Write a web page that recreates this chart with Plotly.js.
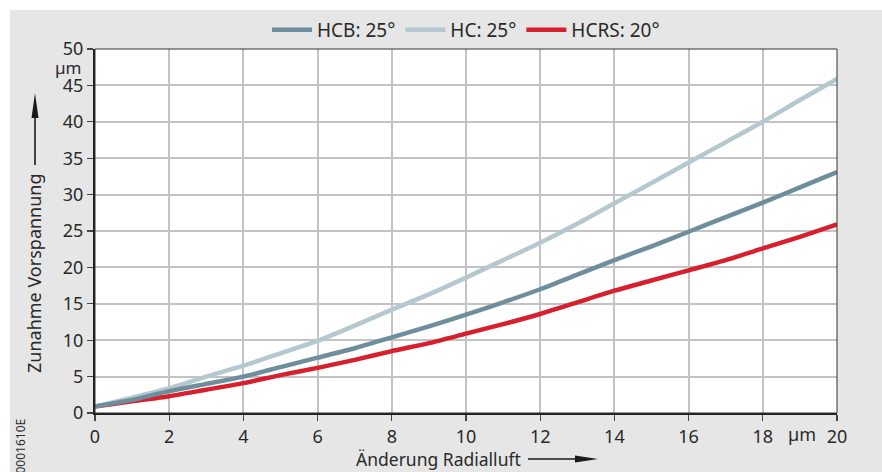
<!DOCTYPE html>
<html>
<head>
<meta charset="utf-8">
<script src="https://cdn.plot.ly/plotly-3.0.1.min.js"></script>
<style>
html,body{margin:0;padding:0;background:#ffffff;}
#chart{position:absolute;left:10px;top:10px;width:872px;height:462px;}
</style>
</head>
<body>
<div id="chart"></div>
<script>
// ---- data ----
const xValues = [0,1,2,3,4,5,6,7,8,9,10,11,12,13,14,15,16,17,18,19,20];
const hcbValues  = [0.9,1.8,3.0,4.0,5.0,6.3,7.6,8.9,10.4,11.9,13.5,15.2,17.0,19.0,21.0,22.9,24.9,26.9,28.9,31.0,33.1];
const hcValues   = [0.9,2.1,3.4,5.0,6.5,8.2,9.9,12.0,14.2,16.3,18.6,21.0,23.4,26.0,28.8,31.6,34.4,37.2,40.0,43.0,45.9];
const hcrsValues = [0.9,1.6,2.3,3.2,4.1,5.2,6.2,7.3,8.5,9.6,10.9,12.2,13.6,15.2,16.8,18.2,19.6,21.0,22.6,24.2,25.9];
const seriesNames = ["HCB: 25°","HC: 25°","HCRS: 20°"];
const xTicks = [0,2,4,6,8,10,12,14,16,18,20];
const yTicks = [0,5,10,15,20,25,30,35,40,45,50];
const xTitle = "Änderung Radialluft";
const yTitle = "Zunahme Vorspannung";
const unitLabel = "µm";
const docCode = "0001610E";

// ---- layout geometry ----
const W = 872, H = 462;
const M = {l:85, r:45, t:39, b:59, autoexpand:false};
const PW = W - M.l - M.r, PH = H - M.t - M.b;
const px = v => (v - M.l) / PW;          // div pixel x -> paper
const py = v => 1 - (v - M.t) / PH;      // div pixel y -> paper

const FONT = "Noto Sans, Open Sans, sans-serif";
const TXT = "#2a2a2a";
const FS = 18;
const colors = {hcb:"#6e8e9b", hc:"#b5c8cf", hcrs:"#d6202d"};

const common = {x:xValues, mode:"lines", hoverinfo:"skip"};
const traces = [
  Object.assign({}, common, {y:hcrsValues, name:seriesNames[2], legendrank:3,
    line:{color:colors.hcrs, width:4.5, shape:"spline", smoothing:0.6}}),
  Object.assign({}, common, {y:hcValues, name:seriesNames[1], legendrank:2,
    line:{color:colors.hc, width:4.5, shape:"spline", smoothing:0.6}}),
  Object.assign({}, common, {y:hcbValues, name:seriesNames[0], legendrank:1,
    line:{color:colors.hcb, width:4.5, shape:"spline", smoothing:0.6}})
];

const axisCommon = {
  showgrid:true, gridcolor:"#c3c3c6", gridwidth:2,
  zeroline:false, showline:true, linecolor:"#1e1e1e", linewidth:2,
  ticks:"outside", ticklen:6, tickwidth:1.2, tickcolor:"#444",
  tickfont:{family:FONT, size:FS, color:TXT}, fixedrange:true, automargin:false
};

// arrows (decoration)
const shapes = [
  {type:"rect", xref:"paper", yref:"paper", x0:0, x1:1, y0:0, y1:1,
   line:{color:"#333", width:1}, layer:"above"},
  // y arrow shaft
  {type:"line", xref:"paper", yref:"paper", x0:px(25), x1:px(25), y0:py(155), y1:py(105),
   line:{color:"#1a1a1a", width:1.6}},
  // y arrow head
  {type:"path", xref:"paper", yref:"paper",
   path:`M ${px(21.5)} ${py(108)} L ${px(25)} ${py(83)} L ${px(28.5)} ${py(108)} Z`,
   fillcolor:"#1a1a1a", line:{width:0}},
  // x arrow shaft
  {type:"line", xref:"paper", yref:"paper", x0:px(518), x1:px(570), y0:py(449), y1:py(449),
   line:{color:"#1a1a1a", width:1.6}},
  // x arrow head
  {type:"path", xref:"paper", yref:"paper",
   path:`M ${px(565)} ${py(445.5)} L ${px(588)} ${py(449)} L ${px(565)} ${py(452.5)} Z`,
   fillcolor:"#1a1a1a", line:{width:0}}
];

const annotations = [
  {text:yTitle, textangle:-90, xref:"paper", yref:"paper", x:px(24), y:py(263),
   xanchor:"center", yanchor:"middle", showarrow:false, font:{family:FONT, size:FS, color:TXT}},
  {text:xTitle, xref:"paper", yref:"paper", x:px(428), y:py(449),
   xanchor:"center", yanchor:"middle", showarrow:false, font:{family:FONT, size:17.5, color:TXT}},
  {text:unitLabel, xref:"paper", yref:"y", x:px(58), y:47.5,
   xanchor:"center", yanchor:"middle", showarrow:false, font:{family:FONT, size:17, color:TXT}},
  {text:unitLabel, xref:"x", yref:"paper", x:19.05, y:py(424),
   xanchor:"center", yanchor:"middle", showarrow:false, font:{family:FONT, size:FS, color:TXT}},
  {text:docCode, textangle:-90, xref:"paper", yref:"paper", x:px(10), y:py(466),
   xanchor:"center", yanchor:"bottom", showarrow:false, font:{family:FONT, size:12, color:TXT}}
];

const layout = {
  width:W, height:H,
  margin:M,
  paper_bgcolor:"#e6e6e6", plot_bgcolor:"#ffffff",
  font:{family:FONT, color:TXT},
  showlegend:true,
  legend:{orientation:"h", x:0.5, xanchor:"center", y:py(20), yanchor:"middle",
    bgcolor:"rgba(0,0,0,0)", font:{family:FONT, size:19, color:TXT},
    traceorder:"normal", itemwidth:40},
  xaxis:Object.assign({}, axisCommon, {range:[0,20], tickvals:xTicks}),
  yaxis:Object.assign({}, axisCommon, {range:[0,50], tickvals:yTicks}),
  shapes:shapes,
  annotations:annotations
};

Plotly.newPlot("chart", traces, layout, {displayModeBar:false, staticPlot:true});
</script>
</body>
</html>
